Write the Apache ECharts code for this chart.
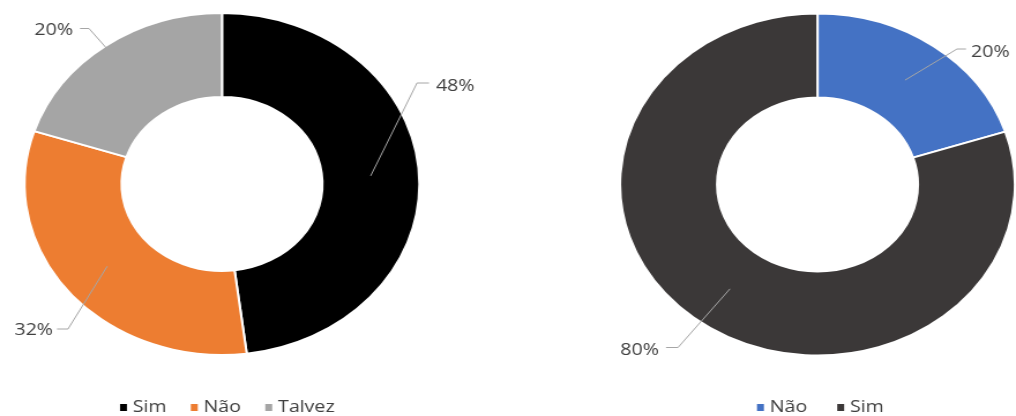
<!DOCTYPE html>
<html>
<head>
<meta charset="utf-8">
<title>Sim / Não / Talvez</title>
<script src="https://cdn.jsdelivr.net/npm/echarts@6/dist/echarts.min.js"></script>
<style>
  html, body { margin: 0; padding: 0; background: #ffffff; overflow: hidden; }
  #wrap { width: 1016px; height: 416px; overflow: hidden; }
  /* the drawing is widened horizontally, giving the oval donuts */
  #chart { width: 880px; height: 416px; transform: scaleX(1.1545); transform-origin: 0 0; }
</style>
</head>
<body>
<div id="wrap"><div id="chart"></div></div>
<script>
// ---- data ----
const leftCategories = ['Sim', 'Não', 'Talvez'];
const leftValues = [48, 32, 20];
const rightCategories = ['Não', 'Sim'];
const rightValues = [20, 80];

// ---- styling ----
const leftColors = ['#000000', '#ED7D31', '#A5A5A5'];
const rightColors = ['#4472C4', '#3B3838'];
const TEXT_COLOR = '#404040';
const FONT = '"Open Sans", "Liberation Sans", sans-serif';

// ---- layout (page pixels; x is divided by the stretch factor) ----
const SX = 1.1545;
const OUTER = 171, INNER = 87, LEAD_R = 129;
const CENTERS = [[222 / SX, 184], [817.5 / SX, 184.5]];
// where each slice's value label sits, and the elbow of its leader line
const LABEL_SPOTS = [
  [
    { x: 436, y: 86, align: 'left', elbow: [417, 83], end: [429, 83] },
    { x: 53, y: 330, align: 'right', elbow: [68, 329], end: [57, 329] },
    { x: 73, y: 30, align: 'right', elbow: [89, 28.5], end: [80, 28.5] }
  ],
  [
    { x: 971, y: 52, align: 'left', elbow: [957, 49], end: [966, 49] },
    { x: 659, y: 350, align: 'right', elbow: [678, 347.5], end: [666, 347.5] }
  ]
];

function makeLabelLayout(seriesIdx) {
  return function (params) {
    const spot = LABEL_SPOTS[seriesIdx][params.dataIndex];
    const c = CENTERS[seriesIdx];
    const p = params.labelLinePoints[0];
    // the leader line starts halfway through the ring
    const k = LEAD_R / OUTER;
    const start = [c[0] + (p[0] - c[0]) * k, c[1] + (p[1] - c[1]) * k];
    return {
      x: spot.x / SX,
      y: spot.y,
      align: spot.align,
      verticalAlign: 'middle',
      labelLinePoints: [
        start,
        [spot.elbow[0] / SX, spot.elbow[1]],
        [spot.end[0] / SX, spot.end[1]]
      ]
    };
  };
}

function pieData(names, values, colors) {
  return names.map((n, j) => ({ name: n, value: values[j], itemStyle: { color: colors[j] } }));
}

// the coloured ring itself
function donut(idx, names, values, colors) {
  return {
    type: 'pie',
    z: 2,
    center: CENTERS[idx],
    radius: [INNER, OUTER],
    startAngle: 90,
    clockwise: true,
    animation: false,
    silent: true,
    data: pieData(names, values, colors),
    itemStyle: { borderColor: '#ffffff', borderWidth: 2 },
    label: { show: false },
    labelLine: { show: false },
    emphasis: { disabled: true }
  };
}

// a clear copy of the ring on top, carrying the value labels and their leader lines
function donutLabels(idx, names, values) {
  return {
    type: 'pie',
    z: 5,
    center: CENTERS[idx],
    radius: [INNER, OUTER],
    startAngle: 90,
    clockwise: true,
    avoidLabelOverlap: false,
    animation: false,
    silent: true,
    data: names.map((n, j) => ({ name: n, value: values[j] })),
    itemStyle: { color: 'rgba(0,0,0,0)', borderWidth: 0 },
    label: {
      show: true,
      position: 'outside',
      formatter: '{d}%',
      color: TEXT_COLOR,
      fontFamily: FONT,
      fontSize: 17
    },
    labelLine: { show: true, lineStyle: { color: '#A6A6A6', width: 1 } },
    labelLayout: makeLabelLayout(idx),
    emphasis: { disabled: true }
  };
}

function legendFor(names, colors, left, gap) {
  return {
    data: names.map((n, j) => ({
      name: n,
      icon: 'rect',
      itemStyle: { color: colors[j], borderWidth: 0, borderColor: 'transparent' }
    })),
    left: left,
    top: 399,
    padding: 0,
    orient: 'horizontal',
    itemWidth: 6,
    itemHeight: 7,
    itemGap: gap,
    selectedMode: false,
    textStyle: { color: TEXT_COLOR, fontFamily: FONT, fontSize: 17 }
  };
}

const chart = echarts.init(document.getElementById('chart'), null, { renderer: 'canvas' });
chart.setOption({
  backgroundColor: '#ffffff',
  animation: false,
  legend: [
    legendFor(leftCategories, leftColors, 120 / SX, 21),
    legendFor(rightCategories, rightColors, 757 / SX, 26)
  ],
  series: [
    donut(0, leftCategories, leftValues, leftColors),
    donut(1, rightCategories, rightValues, rightColors),
    donutLabels(0, leftCategories, leftValues),
    donutLabels(1, rightCategories, rightValues)
  ]
});
</script>
</body>
</html>
